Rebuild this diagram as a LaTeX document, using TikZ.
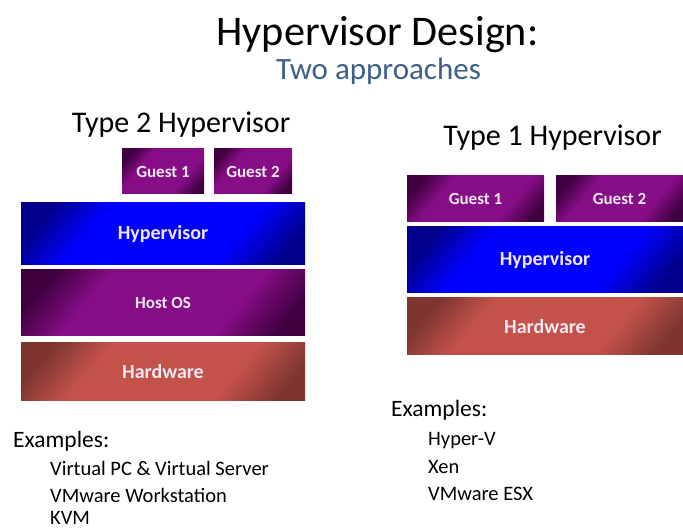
\documentclass[tikz,border=0pt]{standalone}
\usepackage{fontspec}
\setmainfont{Carlito}
\definecolor{subblue}{RGB}{60,95,140}
\definecolor{labtxt}{RGB}{242,232,242}
\definecolor{hwred}{RGB}{194,82,74}
\pgfdeclarehorizontalshading{blueshade}{100bp}{color(0bp)=(blue!55!black); color(22bp)=(blue!55!black); color(34bp)=(blue); color(66bp)=(blue); color(79bp)=(blue!55!black); color(100bp)=(blue!55!black)}
\pgfdeclarehorizontalshading{purpleshade}{100bp}{color(0bp)=(violet!50!black); color(22bp)=(violet!50!black); color(34bp)=(violet!95!white); color(66bp)=(violet!95!white); color(79bp)=(violet!50!black); color(100bp)=(violet!50!black)}
\pgfdeclarehorizontalshading{redshade}{100bp}{color(0bp)=(hwred!65!black); color(22bp)=(hwred!65!black); color(34bp)=(hwred); color(66bp)=(hwred); color(79bp)=(hwred!65!black); color(100bp)=(hwred!65!black)}
\tikzset{
  layer/.style={rectangle, inner sep=0pt, text=labtxt, font=\bfseries, shading angle=-40},
  bluebox/.style={layer, shading=blueshade},
  purplebox/.style={layer, shading=purpleshade},
  redbox/.style={layer, shading=redshade},
  small/.style={font=\bfseries\fontsize{17}{20}\selectfont},
  big/.style={font=\bfseries\fontsize{20}{24}\selectfont},
  heading/.style={anchor=base, inner sep=0pt},
  item/.style={anchor=base west, inner sep=0pt, font=\fontsize{20.5}{24}\selectfont},
  exhead/.style={anchor=base west, inner sep=0pt, font=\fontsize{23.5}{28}\selectfont}
}
\begin{document}
\begin{tikzpicture}[x=1pt,y=-1pt]
\useasboundingbox[fill=white] (0,0) rectangle (683,529);
% titles
\node[heading, font=\fontsize{42.2}{48}\selectfont] (title) at (377.5,46) {Hypervisor Design:};
\node[heading, font=\fontsize{31}{36}\selectfont, text=subblue] (sub) at (378.5,80) {Two approaches};
\node[heading, font=\fontsize{30}{35}\selectfont] (t2) at (181,133) {Type 2 Hypervisor};
\node[heading, font=\fontsize{30}{35}\selectfont] (t1) at (552.5,146) {Type 1 Hypervisor};
% Type 2 stack
\node[purplebox, small, minimum width=82, minimum height=45] (lg1) at (163,171.5) {Guest 1};
\node[purplebox, small, minimum width=78, minimum height=45] (lg2) at (253,171.5) {Guest 2};
\node[bluebox, big, minimum width=284, minimum height=62] (lhyp) at (163,234) {Hypervisor};
\node[purplebox, small, minimum width=284, minimum height=66] (lhost) at (163,303) {Host OS};
\node[redbox, big, minimum width=284, minimum height=57] (lhw) at (163,371.5) {Hardware};
% Type 1 stack
\node[purplebox, small, minimum width=137, minimum height=46] (rg1) at (475.5,199) {Guest 1};
\node[purplebox, small, minimum width=127, minimum height=46] (rg2) at (619.5,199) {Guest 2};
\node[bluebox, big, minimum width=276, minimum height=66] (rhyp) at (545,260) {Hypervisor};
\node[redbox, big, minimum width=276, minimum height=57] (rhw) at (545,326.5) {Hardware};
% examples left
\node[exhead] (lex) at (13,447) {Examples:};
\node[item] (lex1) at (50,475) {Virtual PC \& Virtual Server};
\node[item] (lex2) at (50,502) {VMware Workstation};
\node[item] (lex3) at (50,524) {KVM};
% examples right
\node[exhead] (rex) at (391,417) {Examples:};
\node[item] (rex1) at (428,445) {Hyper-V};
\node[item] (rex2) at (428,473) {Xen};
\node[item] (rex3) at (428,500) {VMware ESX};
\end{tikzpicture}
\end{document}
